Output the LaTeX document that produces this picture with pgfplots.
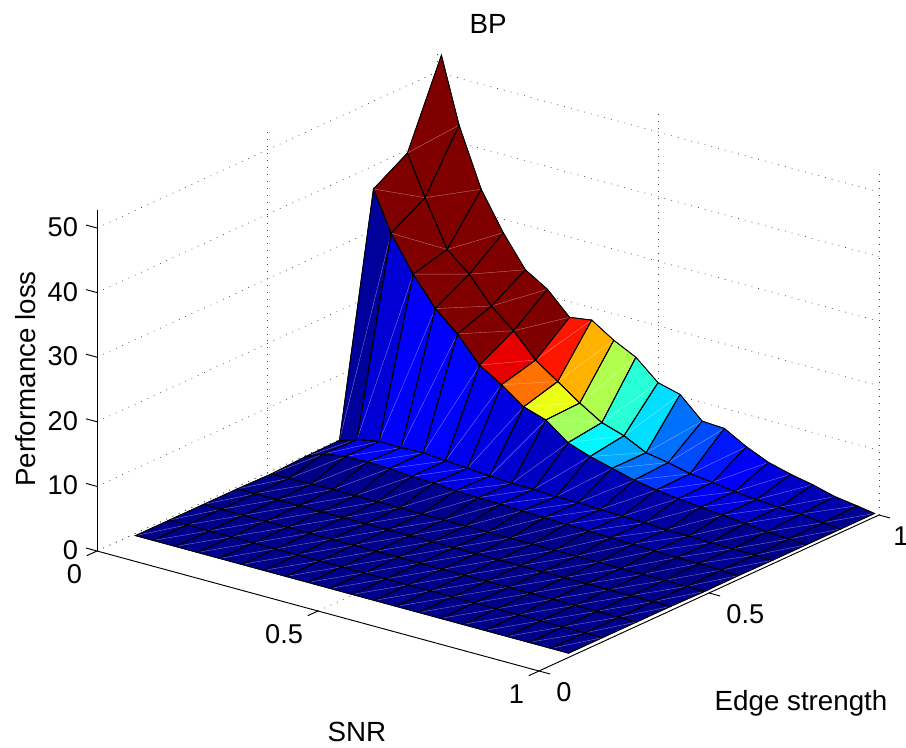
\documentclass[border=0pt]{standalone}
\usepackage{fontspec}
\setmainfont{Liberation Sans}
\usepackage{pgfplots}
\usepackage{pgfplotstable}
\pgfplotsset{compat=1.18}
\usetikzlibrary{calc}
\newcommand{\lab}{\fontsize{20.8pt}{24pt}\selectfont}
\newcommand{\tlab}{\fontsize{20.4pt}{24pt}\selectfont}
\pgfplotstableread{
x y z
0.01 0.1 0.15
0.05 0.1 0.15
0.10 0.1 0.15
0.15 0.1 0.15
0.20 0.1 0.15
0.25 0.1 0.15
0.30 0.1 0.15
0.35 0.1 0.15
0.40 0.1 0.15
0.45 0.1 0.15
0.50 0.1 0.15
0.55 0.1 0.15
0.60 0.1 0.15
0.65 0.1 0.15
0.70 0.1 0.15
0.75 0.1 0.15
0.80 0.1 0.15
0.85 0.1 0.15
0.90 0.1 0.15
0.95 0.1 0.15
0.99 0.1 0.15
0.01 0.2 0.15
0.05 0.2 0.15
0.10 0.2 0.15
0.15 0.2 0.15
0.20 0.2 0.15
0.25 0.2 0.15
0.30 0.2 0.15
0.35 0.2 0.15
0.40 0.2 0.15
0.45 0.2 0.15
0.50 0.2 0.15
0.55 0.2 0.15
0.60 0.2 0.15
0.65 0.2 0.15
0.70 0.2 0.15
0.75 0.2 0.15
0.80 0.2 0.15
0.85 0.2 0.15
0.90 0.2 0.15
0.95 0.2 0.15
0.99 0.2 0.15
0.01 0.3 0.15
0.05 0.3 0.15
0.10 0.3 0.15
0.15 0.3 0.15
0.20 0.3 0.15
0.25 0.3 0.15
0.30 0.3 0.15
0.35 0.3 0.15
0.40 0.3 0.15
0.45 0.3 0.15
0.50 0.3 0.15
0.55 0.3 0.15
0.60 0.3 0.15
0.65 0.3 0.15
0.70 0.3 0.15
0.75 0.3 0.15
0.80 0.3 0.15
0.85 0.3 0.15
0.90 0.3 0.15
0.95 0.3 0.15
0.99 0.3 0.15
0.01 0.4 0.15
0.05 0.4 0.15
0.10 0.4 0.15
0.15 0.4 0.15
0.20 0.4 0.15
0.25 0.4 0.15
0.30 0.4 0.15
0.35 0.4 0.15
0.40 0.4 0.15
0.45 0.4 0.15
0.50 0.4 0.15
0.55 0.4 0.15
0.60 0.4 0.15
0.65 0.4 0.15
0.70 0.4 0.15
0.75 0.4 0.15
0.80 0.4 0.15
0.85 0.4 0.15
0.90 0.4 0.15
0.95 0.4 0.15
0.99 0.4 0.15
0.01 0.5 0.05
0.05 0.5 0.10
0.10 0.5 0.15
0.15 0.5 0.25
0.20 0.5 0.20
0.25 0.5 0.20
0.30 0.5 0.20
0.35 0.5 0.15
0.40 0.5 0.15
0.45 0.5 0.15
0.50 0.5 0.15
0.55 0.5 0.15
0.60 0.5 0.15
0.65 0.5 0.12
0.70 0.5 0.12
0.75 0.5 0.12
0.80 0.5 0.10
0.85 0.5 0.10
0.90 0.5 0.10
0.95 0.5 0.10
0.99 0.5 0.05
0.01 0.6 0.30
0.05 0.6 1.45
0.10 0.6 2.00
0.15 0.6 2.10
0.20 0.6 2.00
0.25 0.6 1.70
0.30 0.6 1.60
0.35 0.6 1.35
0.40 0.6 1.20
0.45 0.6 1.15
0.50 0.6 1.00
0.55 0.6 0.90
0.60 0.6 0.80
0.65 0.6 0.70
0.70 0.6 0.60
0.75 0.6 0.50
0.80 0.6 0.40
0.85 0.6 0.30
0.90 0.6 0.30
0.95 0.6 0.20
0.99 0.6 0.10
0.01 0.7 0.40
0.05 0.7 1.30
0.10 0.7 1.90
0.15 0.7 1.90
0.20 0.7 2.00
0.25 0.7 1.70
0.30 0.7 1.50
0.35 0.7 1.20
0.40 0.7 1.00
0.45 0.7 1.00
0.50 0.7 0.80
0.55 0.7 0.80
0.60 0.7 0.67
0.65 0.7 0.57
0.70 0.7 0.50
0.75 0.7 0.30
0.80 0.7 0.30
0.85 0.7 0.20
0.90 0.7 0.15
0.95 0.7 0.10
0.99 0.7 0.05
0.01 0.8 36.9
0.05 0.8 30.8
0.10 0.8 25.4
0.15 0.8 21.0
0.20 0.8 18.0
0.25 0.8 14.1
0.30 0.8 12.0
0.35 0.8 9.5
0.40 0.8 8.4
0.45 0.8 5.8
0.50 0.8 4.6
0.55 0.8 3.7
0.60 0.8 2.8
0.65 0.8 2.2
0.70 0.8 1.8
0.75 0.8 1.4
0.80 0.8 1.1
0.85 0.8 0.75
0.90 0.8 0.40
0.95 0.8 0.20
0.99 0.8 0.05
0.01 0.9 40.06
0.05 0.9 33.9
0.10 0.9 26.8
0.15 0.9 23.9
0.20 0.9 19.9
0.25 0.9 17.0
0.30 0.9 13.4
0.35 0.9 11.0
0.40 0.9 8.6
0.45 0.9 6.5
0.50 0.9 5.4
0.55 0.9 3.7
0.60 0.9 3.1
0.65 0.9 2.3
0.70 0.9 1.9
0.75 0.9 1.4
0.80 0.9 1.1
0.85 0.9 0.8
0.90 0.9 0.7
0.95 0.9 0.3
0.99 0.9 0.05
0.01 1.0 52.8
0.05 1.0 42.7
0.10 1.0 33.7
0.15 1.0 27.9
0.20 1.0 23.1
0.25 1.0 21.0
0.30 1.0 17.6
0.35 1.0 18.1
0.40 1.0 15.9
0.45 1.0 14.2
0.50 1.0 11.2
0.55 1.0 10.3
0.60 1.0 7.1
0.65 1.0 6.9
0.70 1.0 5.0
0.75 1.0 3.5
0.80 1.0 2.6
0.85 1.0 1.9
0.90 1.0 1.0
0.95 1.0 0.5
0.99 1.0 0.05
}\surfdata
% faint seam across each face, from the table above
\def\diagcoords{}
\pgfplotsforeachungrouped \j in {0,...,8}{%
 \pgfplotsforeachungrouped \i in {0,...,19}{%
  \pgfmathtruncatemacro{\ra}{\j*21+\i}%
  \pgfmathtruncatemacro{\rb}{(\j+1)*21+\i+1}%
  \pgfplotstablegetelem{\ra}{x}\of\surfdata\let\xa\pgfplotsretval
  \pgfplotstablegetelem{\ra}{y}\of\surfdata\let\ya\pgfplotsretval
  \pgfplotstablegetelem{\ra}{z}\of\surfdata\let\za\pgfplotsretval
  \pgfplotstablegetelem{\rb}{x}\of\surfdata\let\xb\pgfplotsretval
  \pgfplotstablegetelem{\rb}{y}\of\surfdata\let\yb\pgfplotsretval
  \pgfplotstablegetelem{\rb}{z}\of\surfdata\let\zb\pgfplotsretval
  \xdef\diagcoords{\diagcoords (\xa,\ya,\za)(\xb,\yb,\zb)(nan,nan,nan)}%
 }%
}
\begin{document}
\begin{tikzpicture}
\begin{axis}[
  x={(331.5pt,-90pt)}, y={(255pt,117pt)}, z={(0pt,4.845pt)},
  xmin=0,xmax=1,ymin=0,ymax=1,zmin=0,zmax=52.8,
  clip=false,
  xtick={0,0.5,1}, ytick={0,0.5,1}, ztick={0,10,20,30,40,50},
  yticklabels={0,0.5,\hspace*{-2.25pt}1},
  grid=major,
  major grid style={black!75,line width=.5pt,dash pattern=on .6pt off 4.6pt},
  axis line style={draw=none},
  tick style={draw=none},
  /pgf/number format/assume math mode=true,
  tick label style={font=\tlab},
  label style={font=\lab},
  title style={font=\lab,at={(axis cs:-1.0768,2.55,0)},anchor=center,yshift=-6pt},
  title={BP},
  xlabel={SNR}, ylabel={Edge strength}, zlabel={Performance loss},
  xlabel style={at={(axis cs:0.93,-0.4447,0)},anchor=center,sloped=false,rotate=0},
  ylabel style={at={(axis cs:1.4654,0.1657,0)},anchor=center,sloped=false,rotate=0,yshift=-2pt},
  zlabel style={at={(axis cs:-0.6338,0.6151,0)},anchor=center,sloped=false},
  xticklabel style={anchor=east,xshift=-7.75pt,yshift=-17.25pt},
  yticklabel style={anchor=west,xshift=9.5pt,yshift=-15.75pt},
  zticklabel style={anchor=east,xshift=-10.75pt,yshift=.6pt},
  colormap={mjet}{rgb255(0cm)=(0,0,128) rgb255(1cm)=(0,0,255) rgb255(3cm)=(0,255,255) rgb255(5cm)=(255,255,0) rgb255(7cm)=(255,0,0) rgb255(8cm)=(128,0,0)},
  point meta min=0, point meta max=15.7,
]
\addplot3[surf,shader=flat corner,draw=black,line width=.5pt,z buffer=none,mesh/rows=10,mesh/cols=21,mesh/ordering=x varies]
  table[x=x,y=y,z=z] {\surfdata};
\edef\temp{\noexpand\addplot3[white,opacity=.45,line width=.3pt,unbounded coords=jump,forget plot] coordinates {\diagcoords};}\temp
\addplot3[mesh,colormap={bk}{rgb255(0cm)=(0,0,0) rgb255(1cm)=(0,0,0)},line width=.6pt,z buffer=none,mesh/rows=10,mesh/cols=21,mesh/ordering=x varies,forget plot]
  table[x=x,y=y,z=z] {\surfdata};
% axis lines and ticks
\addplot3[black,line width=.7pt,forget plot] coordinates {(0,0,0)(1,0,0)(1,1,0)};
\addplot3[black,line width=.7pt,forget plot] coordinates {(0,0,0)(0,0,52.8)};
\addplot3[black,line width=.7pt,unbounded coords=jump,forget plot] coordinates {
 (0,0,0)(0,-0.03,0)(nan,nan,nan)(0.5,0,0)(0.5,-0.03,0)(nan,nan,nan)(1,0,0)(1,-0.03,0)(nan,nan,nan)
 (1,0,0)(1.025,0,0)(nan,nan,nan)(1,0.5,0)(1.025,0.5,0)(nan,nan,nan)(1,1,0)(1.025,1,0)(nan,nan,nan)
 (0,0,0)(-0.025,0,0)(nan,nan,nan)(0,0,10)(-0.025,0,10)(nan,nan,nan)(0,0,20)(-0.025,0,20)(nan,nan,nan)
 (0,0,30)(-0.025,0,30)(nan,nan,nan)(0,0,40)(-0.025,0,40)(nan,nan,nan)(0,0,50)(-0.025,0,50)};
\coordinate (A) at (axis cs:0,0,0);
\end{axis}
\pgfresetboundingbox
\path[use as bounding box] ($(A)+(-72.75pt,413.25pt)$) rectangle ($(A)+(606.75pt,-147.75pt)$);
\end{tikzpicture}
\end{document}
